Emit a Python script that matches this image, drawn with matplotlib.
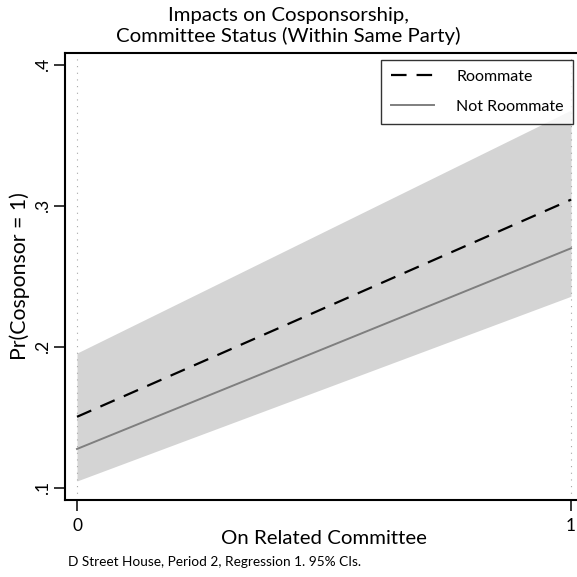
import matplotlib.pyplot as plt

plt.rcParams['font.family'] = ['Lato', 'DejaVu Sans']

# Predicted probabilities at committee status 0 / 1
committee = [0, 1]
roommate = [0.1505, 0.3045]
not_roommate = [0.1277, 0.2700]
ci_low = [0.1050, 0.2360]
ci_high = [0.1957, 0.3680]

fig = plt.figure(figsize=(5.77, 5.77), dpi=100)
# axes runs a little past the right edge of the canvas
ax = fig.add_axes([65 / 577, 77 / 577, 518 / 577, 447 / 577])

ax.fill_between(committee, ci_low, ci_high, color='#d4d4d4', lw=0, zorder=1)
ax.plot(committee, roommate, color='black', lw=1.6, dashes=(7, 4.5), label='Roommate', zorder=3)
ax.plot(committee, not_roommate, color='#7f7f7f', lw=1.4, label='Not Roommate', zorder=3)

for xv in committee:
    ax.axvline(xv, color='#a8a8a8', lw=0.8, ls=(0, (1, 5)), zorder=2)

ax.set_xlim(-0.0243, 1.0243)
ax.set_ylim(0.0915, 0.4085)
ax.set_xticks([0, 1])
ax.set_xticklabels(['0', '1'])
ax.set_yticks([0.1, 0.2, 0.3, 0.4])
ax.set_yticklabels(['.1', '.2', '.3', '.4'], rotation=90, va='center')
ax.tick_params(direction='out', length=8, width=1.1, labelsize=12.5, pad=5)
ax.tick_params(axis='y', pad=2)

for side in ['left', 'top', 'bottom']:
    ax.spines[side].set_linewidth(1.5)
ax.spines['right'].set_visible(False)

ax.set_ylabel('Pr(Cosponsor = 1)', fontsize=15.3, labelpad=4)
ax.set_xlabel('On Related Committee', fontsize=14.7, labelpad=-3)
fig.text(0.5, 1 - 7 / 577, 'Impacts on Cosponsorship,\nCommittee Status (Within Same Party)',
         ha='center', va='top', fontsize=14.7, linespacing=1.22)
fig.text(68 / 577, 1 - 562 / 577, 'D Street House, Period 2, Regression 1. 95% CIs.',
         ha='left', va='center', fontsize=9.8)

leg = ax.legend(loc='upper left', bbox_to_anchor=(381 / 577, 1 - 60 / 577),
                bbox_transform=fig.transFigure, frameon=True, fancybox=False,
                edgecolor='black', fontsize=11.5, handlelength=2.7, handletextpad=1.4,
                borderpad=0.6, labelspacing=1.0, borderaxespad=0)
leg.get_frame().set_linewidth(1.0)

fig.savefig('out.png', dpi=100)
